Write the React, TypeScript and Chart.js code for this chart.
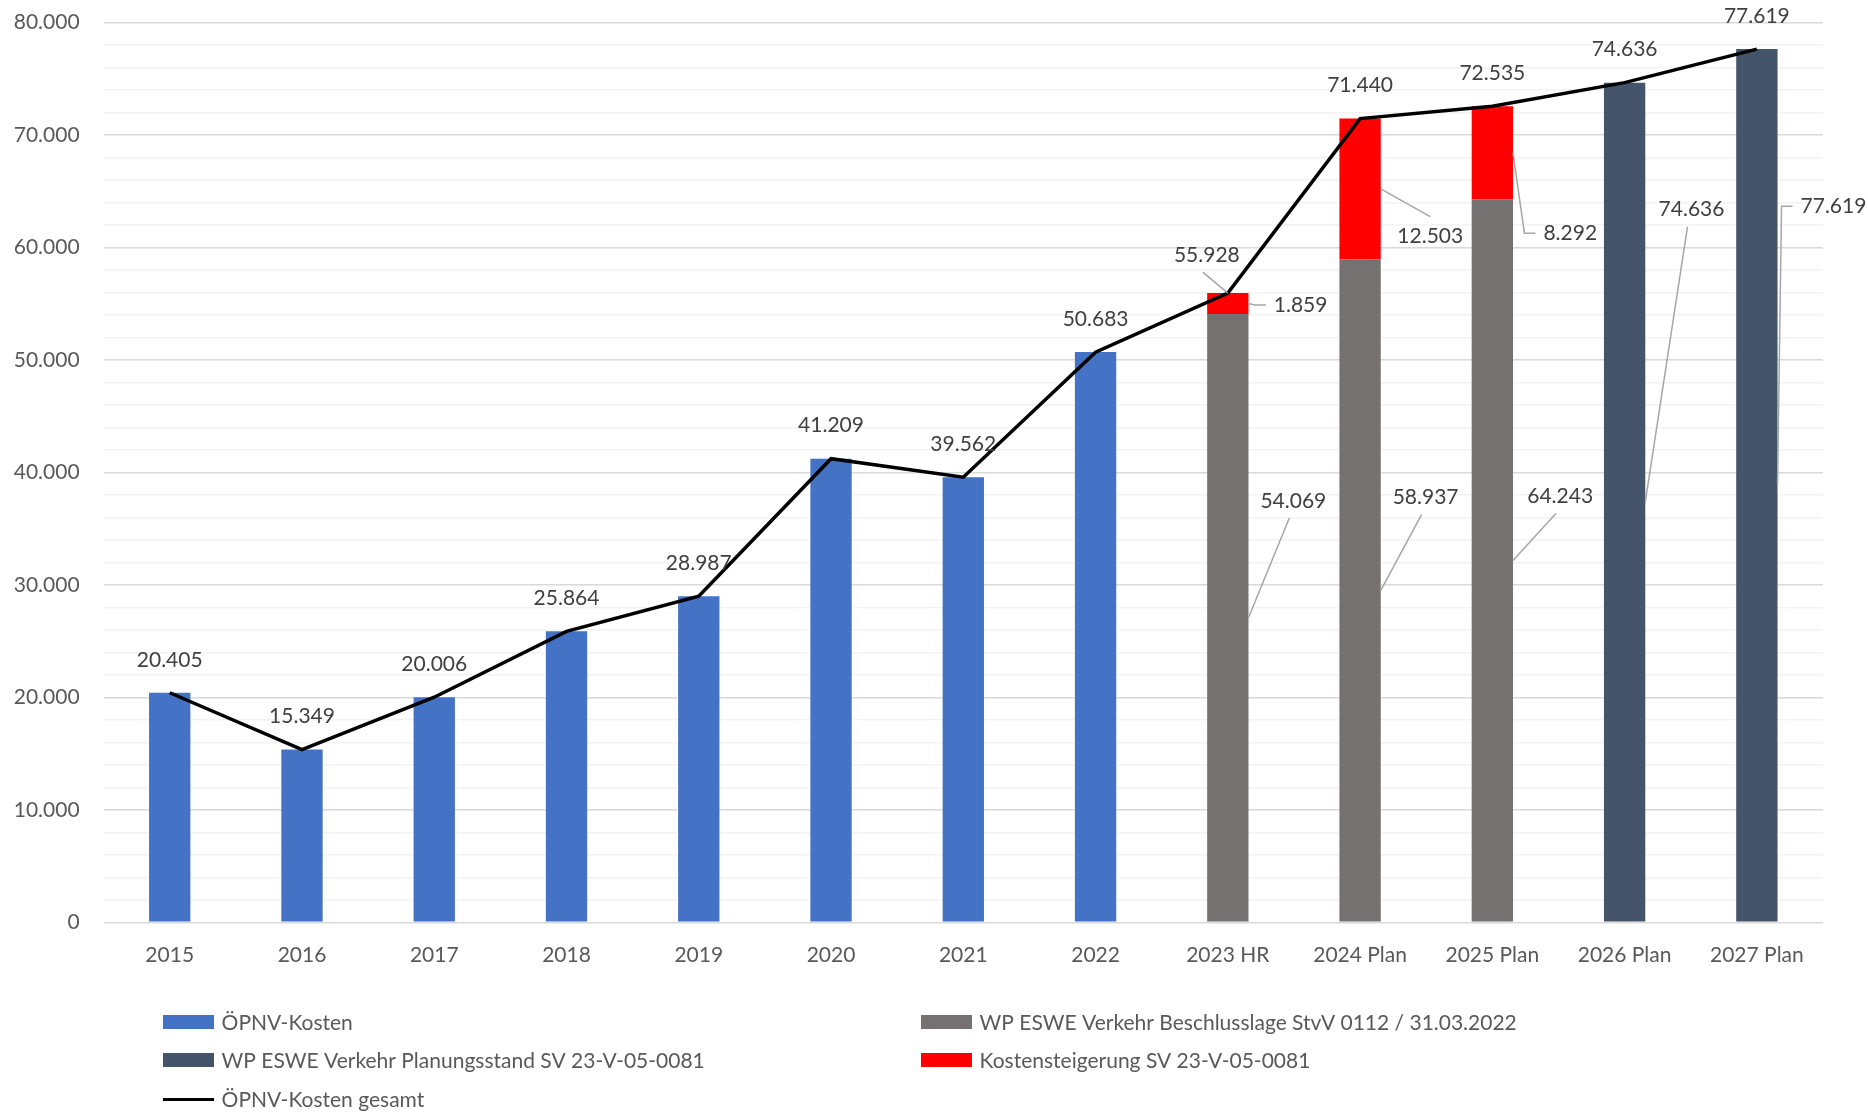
import React, { useEffect, useRef } from 'react';
import { Chart, registerables } from 'chart.js';

Chart.register(...registerables);

const categories = ['2015', '2016', '2017', '2018', '2019', '2020', '2021', '2022', '2023 HR', '2024 Plan', '2025 Plan', '2026 Plan', '2027 Plan'];
const oepnvKosten = [20405, 15349, 20006, 25864, 28987, 41209, 39562, 50683, null, null, null, null, null];
const beschlusslage = [null, null, null, null, null, null, null, null, 54069, 58937, 64243, null, null];
const planungsstand = [null, null, null, null, null, null, null, null, null, null, null, 74636, 77619];
const kostensteigerung = [null, null, null, null, null, null, null, null, 1859, 12503, 8292, null, null];
const gesamt = [20405, 15349, 20006, 25864, 28987, 41209, 39562, 50683, 55928, 71440, 72535, 74636, 77619];

const yMax = 80000;
const yMinorStep = 2000;
const yMajorStep = 10000;

const FONT = 'Lato, "Open Sans", sans-serif';
const TEXT = '#404040';
const AXIS_TEXT = '#595959';

// label placement (offsets relative to the mark's anchor) - layout only
type Place = { dx: number; dy: number; leader?: 'bottom' | 'top' | 'left' };
const placements: Record<string, Record<number, Place>> = {
  gesamt: { 8: { dx: -21, dy: -38, leader: 'bottom' } },
  beschluss: {
    8: { dx: 65.5, dy: -116.7, leader: 'bottom' },
    9: { dx: 65.5, dy: -92.8, leader: 'bottom' },
    10: { dx: 67.8, dy: -64.2, leader: 'bottom' },
  },
  steigerung: {
    8: { dx: 72.8, dy: 1.4, leader: 'left' },
    9: { dx: 70.2, dy: 47.7, leader: 'top' },
    10: { dx: 77.9, dy: 80.3, leader: 'left' },
  },
  planung: {
    11: { dx: 66.9, dy: -292.5, leader: 'bottom' },
    12: { dx: 76.6, dy: -279, leader: 'left' },
  },
};

const fmt = (v: number) => String(Math.round(v)).replace(/\B(?=(\d{3})+(?!\d))/g, '.');

const labelPlugin = {
  id: 'valueLabels',
  afterDatasetsDraw(chart: any) {
    const ctx = chart.ctx;
    ctx.save();
    ctx.font = `21px ${FONT}`;
    ctx.textAlign = 'center';
    ctx.textBaseline = 'middle';
    chart.data.datasets.forEach((ds: any, di: number) => {
      const meta = chart.getDatasetMeta(di);
      const key = ds.labelKey;
      if (!key) return;
      meta.data.forEach((el: any, i: number) => {
        const v = ds.data[i];
        if (v === null || v === undefined) return;
        let ax: number, ay: number, defX: number, defY: number;
        if (ds.type === 'line') {
          ax = el.x; ay = el.y; defX = el.x; defY = el.y - 33;
        } else {
          ax = el.x + el.width / 2; ay = (el.y + el.base) / 2; defX = el.x; defY = ay;
          if (!placements[key] || !placements[key][i]) return;
        }
        const p = placements[key] && placements[key][i];
        const text = fmt(v);
        const w = ctx.measureText(text).width;
        let lx = defX, ly = defY;
        if (p) {
          lx = el.x + p.dx;
          ly = (ds.type === 'line' ? el.y : ay) + p.dy;
          ctx.save();
          ctx.strokeStyle = '#A6A6A6';
          ctx.lineWidth = 1.5;
          ctx.beginPath();
          if (p.leader === 'bottom') {
            ctx.moveTo(lx - 4, ly + 17);
            ctx.lineTo(ax, ay);
          } else if (p.leader === 'top') {
            ctx.moveTo(lx, ly - 20);
            ctx.lineTo(ax, ay);
          } else if (p.leader === 'left') {
            const sx = lx - w / 2 - 8;
            ctx.moveTo(sx, ly);
            ctx.lineTo(sx - 11, ly);
            ctx.lineTo(ax, ay);
          }
          ctx.stroke();
          ctx.restore();
        }
        ctx.fillStyle = TEXT;
        ctx.fillText(text, lx, ly);
      });
    });
    ctx.restore();
  },
};

const legendLayout = { cols: [163, 921], rows: [1022, 1060, 1099.6], swatchW: 51, swatchH: 14, gap: 7.6 };

const legendPlugin = {
  id: 'gridLegend',
  afterDraw(chart: any) {
    const ctx = chart.ctx;
    ctx.save();
    ctx.font = `21px ${FONT}`;
    ctx.textBaseline = 'middle';
    ctx.textAlign = 'left';
    const L = legendLayout;
    chart.data.datasets.forEach((ds: any, i: number) => {
      const col = i % 2;
      const row = Math.floor(i / 2);
      const x = L.cols[col];
      const y = L.rows[row];
      if (ds.type === 'line') {
        ctx.strokeStyle = ds.borderColor;
        ctx.lineWidth = 3;
        ctx.beginPath();
        ctx.moveTo(x, y);
        ctx.lineTo(x + L.swatchW, y);
        ctx.stroke();
      } else {
        ctx.fillStyle = ds.backgroundColor;
        ctx.fillRect(x, y - L.swatchH / 2, L.swatchW, L.swatchH);
      }
      ctx.fillStyle = AXIS_TEXT;
      ctx.fillText(ds.label, x + L.swatchW + L.gap, y + 1);
    });
    ctx.restore();
  },
};

export default function App() {
  const ref = useRef<HTMLCanvasElement>(null);
  useEffect(() => {
    document.body.style.margin = '0';
    document.body.style.overflow = 'hidden';
    const canvas = ref.current!;
    const chart = new Chart(canvas, {
      type: 'bar',
      data: {
        labels: categories,
        datasets: [
          { type: 'bar', label: 'ÖPNV-Kosten', data: oepnvKosten, backgroundColor: '#4472C4', labelKey: '' } as any,
          { type: 'bar', label: 'WP ESWE Verkehr Beschlusslage StvV 0112 / 31.03.2022', data: beschlusslage, backgroundColor: '#767171', labelKey: 'beschluss' } as any,
          { type: 'bar', label: 'WP ESWE Verkehr Planungsstand SV 23-V-05-0081', data: planungsstand, backgroundColor: '#44546A', labelKey: 'planung' } as any,
          { type: 'bar', label: 'Kostensteigerung SV 23-V-05-0081', data: kostensteigerung, backgroundColor: '#FF0000', labelKey: 'steigerung' } as any,
          {
            type: 'line', label: 'ÖPNV-Kosten gesamt', data: gesamt, borderColor: '#000000', backgroundColor: '#000000',
            borderWidth: 3.5, pointRadius: 0, tension: 0, stack: 'line', order: -1, labelKey: 'gesamt',
          } as any,
        ],
      },
      options: {
        responsive: false,
        devicePixelRatio: 1,
        animation: false,
        layout: { padding: { top: 22.3, right: 45, left: 0, bottom: 0 } },
        datasets: { bar: { categoryPercentage: 1, barPercentage: 0.3125 } },
        plugins: { legend: { display: false }, tooltip: { enabled: false } },
        scales: {
          x: {
            stacked: true,
            grid: { display: false, drawTicks: false },
            border: { display: false },
            ticks: { color: AXIS_TEXT, font: { family: FONT, size: 21 }, padding: 20, maxRotation: 0, autoSkip: false },
            afterFit: (s: any) => { s.height = 1113 - 922.3; },
          },
          y: {
            stacked: true,
            min: 0,
            max: yMax,
            border: { display: false },
            grid: {
              drawTicks: false,
              color: (c: any) => (c.tick && c.tick.value % yMajorStep === 0 ? '#D9D9D9' : '#F2F2F2'),
              lineWidth: 1.5,
            },
            ticks: {
              stepSize: yMinorStep,
              autoSkip: false,
              padding: 24,
              color: AXIS_TEXT,
              font: { family: FONT, size: 21 },
              callback: (v: any) => (Number(v) % yMajorStep === 0 ? fmt(Number(v)) : ''),
            },
            afterFit: (s: any) => { s.width = 103.6; s.paddingTop = 0; s.paddingBottom = 0; },
          },
        },
      } as any,
      plugins: [labelPlugin, legendPlugin],
    });
    return () => chart.destroy();
  }, []);
  return (
    <div style={{ width: 1868, height: 1113 }}>
      <canvas ref={ref} width={1868} height={1113} style={{ display: 'block' }} />
    </div>
  );
}
